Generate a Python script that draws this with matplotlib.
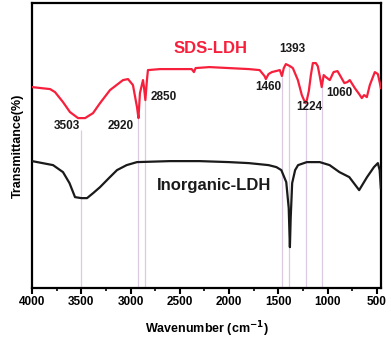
import numpy as np
import matplotlib
matplotlib.use("Agg")
import matplotlib.pyplot as plt
from matplotlib.ticker import MultipleLocator

plt.rcParams['font.family'] = ['Liberation Sans', 'DejaVu Sans']
plt.rcParams['font.weight'] = 'bold'

# SDS-LDH 光谱 (读图估计, 任意单位)
sds_wn = [4000, 3817, 3767, 3686, 3615, 3533, 3462, 3381, 3310, 3209, 3077, 3026,
          2976, 2935, 2920, 2905, 2874, 2864, 2850, 2834, 2824, 2700, 2500, 2380,
          2357, 2340, 2200, 2000, 1800, 1690, 1640, 1627, 1600, 1566, 1485, 1464,
          1445, 1424, 1383, 1353, 1302, 1262, 1231, 1224, 1211, 1191, 1170, 1150,
          1120, 1100, 1080, 1060, 1040, 1018, 978, 940, 900, 876, 830, 800, 775,
          724, 680, 653, 630, 602, 572, 521, 490, 470, 460]
sds_t = [201, 199, 196, 186, 176, 170, 170, 175, 185, 198, 208, 209,
         203, 181, 170, 195, 208, 201, 188, 208, 218, 219, 219, 219,
         216, 220, 221, 220, 219, 218, 212, 209, 214, 216, 218, 212,
         220, 224, 222, 220, 208, 193, 186, 185, 188, 197, 213, 225,
         225, 222, 212, 201, 213, 211, 208, 216, 217, 213, 205, 206, 208,
         200, 194, 190, 193, 191, 203, 216, 214, 205, 200]

# Inorganic-LDH 光谱
inorg_wn = [4000, 3787, 3686, 3620, 3564, 3500, 3442, 3380, 3310, 3220, 3138, 3040,
            2935, 2600, 2300, 2000, 1800, 1600, 1520, 1470, 1420, 1395, 1383, 1375,
            1360, 1330, 1300, 1211, 1080, 980, 880, 780, 680, 600, 530, 490, 472, 460]
inorg_t = [127, 123, 116, 105, 91, 90, 90, 95, 101, 110, 118, 123,
           126, 127, 127, 126, 125, 123, 121, 118, 106, 80, 41, 70,
           105, 118, 123, 126, 126, 123, 116, 111, 98, 111, 121, 125, 118, 100]

# 标注峰位
peak_wn = [3503, 2920, 2850, 1460, 1393, 1224, 1060]
peak_top = [158, 170, 188, 211, 222, 185, 201]
label_pos = [(3645, 162), (3097, 162), (2661, 191), (1606, 201),
             (1363, 239), (1191, 181), (876, 195)]


def main():
    fig = plt.figure(figsize=(3.91, 3.41), dpi=100)
    ax = fig.add_axes([0.082, 0.155, 0.892, 0.836])

    # 参考竖线
    ax.vlines(peak_wn, 0, peak_top, colors='#dccbe4', linewidth=0.9, zorder=1)

    ax.plot(sds_wn, sds_t, color='#f7203c', linewidth=1.6, zorder=3)
    ax.plot(inorg_wn, inorg_t, color='#1a1a1a', linewidth=1.6, zorder=3)

    for wn, (x, y) in zip(peak_wn, label_pos):
        ax.text(x, y, str(wn), ha='center', va='center', fontsize=8.5,
                fontweight='bold', color='#1a1a1a')

    ax.text(2185, 240, 'SDS-LDH', color='#f7203c', fontsize=12,
            fontweight='bold', ha='center', va='center')
    ax.text(2154, 103, 'Inorganic-LDH', color='#1a1a1a', fontsize=12,
            fontweight='bold', ha='center', va='center')

    ax.set_xlim(4000, 460)
    ax.set_ylim(0, 285)
    ax.xaxis.set_major_locator(MultipleLocator(500))
    ax.xaxis.set_minor_locator(MultipleLocator(250))
    ax.set_yticks([])
    ax.tick_params(axis='x', which='major', direction='out', length=4, width=1.5,
                   labelsize=8.5, pad=2)
    ax.tick_params(axis='x', which='minor', direction='out', length=2.5, width=1.2)
    for lab in ax.get_xticklabels():
        lab.set_fontweight('bold')
    for s in ax.spines.values():
        s.set_linewidth(1.6)

    ax.set_xlabel('Wavenumber (cm$^{\\mathbf{-1}}$)', fontsize=9, fontweight='bold',
                  labelpad=8)
    ax.set_ylabel('Transmittance(%)', fontsize=9, fontweight='bold', labelpad=6)

    fig.savefig('out.png', dpi=100)


if __name__ == "__main__":
    main()
